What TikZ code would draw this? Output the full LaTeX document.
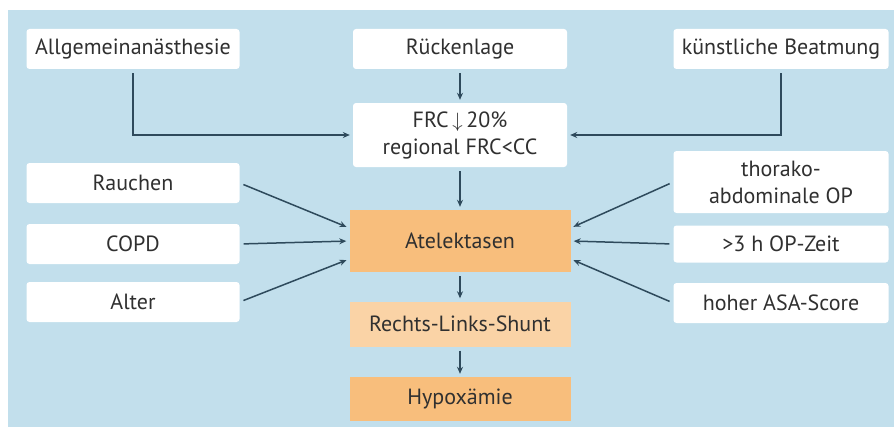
\documentclass[tikz,border=0pt]{standalone}
\usepackage{fontspec}
\setmainfont{PT Sans}
\usetikzlibrary{arrows.meta}
\definecolor{bgblue}{HTML}{C2DFEC}
\definecolor{boxorange}{HTML}{F8BE7C}
\definecolor{boxpale}{HTML}{FAD3A6}
\definecolor{linkcol}{HTML}{2E4A5C}
\definecolor{txtcol}{HTML}{303030}
\begin{document}
\begin{tikzpicture}[x=1pt,y=-1pt,
  box/.style={inner sep=0pt,align=center,text=txtcol,font=\fontsize{22}{27}\selectfont},
  factor/.style={box,fill=white,rounded corners=3pt,minimum width=213pt,minimum height=40pt},
  effect/.style={box,fill=boxorange,minimum width=221pt,minimum height=62pt},
  link/.style={draw=linkcol,line width=1.5pt,-{Stealth[length=7pt,width=6pt]},shorten <=4pt,shorten >=3pt}]
   \useasboundingbox (0,0) rectangle (894,428);
   \fill[bgblue] (8,10) rectangle (894,427);
   \node[factor] (anae) at (133,49) {Allgemeinanästhesie};
   \node[factor,minimum width=214pt] (lage) at (460,49) {Rückenlage};
   \node[factor,minimum width=215pt] (beat) at (781,49) {künstliche Beatmung};
   \node[factor,minimum width=214pt,minimum height=64pt] (frc) at (460,135) {FRC\,$\downarrow$\,20\%\\regional FRC<CC};
   \node[factor] (rauch) at (133,183) {Rauchen};
   \node[factor] (copd) at (133,244) {COPD};
   \node[factor] (alter) at (133,302) {Alter};
   \node[factor,minimum width=215pt,minimum height=62pt] (thor) at (781,182) {thorako-\\abdominale OP};
   \node[factor,minimum width=215pt,minimum height=37pt] (zeit) at (781,244) {>3 h OP-Zeit};
   \node[factor,minimum width=215pt] (asa) at (781,303) {hoher ASA-Score};
   \node[effect] (atel) at (460,241) {Atelektasen};
   \node[effect,fill=boxpale,minimum height=45pt] (shunt) at (460,324) {Rechts-Links-Shunt};
   \node[effect,minimum height=44pt] (hypo) at (460,399) {Hypoxämie};
   \draw[link] (anae.south) |- (frc.west);
   \draw[link] (beat.south) |- (frc.east);
   \draw[link] (lage) -- (frc);
   \draw[link] (frc) -- (atel);
   \draw[link] (rauch.east) -- ([yshift=13pt]atel.west);
   \draw[link] (copd.east) -- (atel.west);
   \draw[link] (alter.east) -- ([yshift=-18pt]atel.west);
   \draw[link] (thor.west) -- ([yshift=13pt]atel.east);
   \draw[link] (zeit.west) -- (atel.east);
   \draw[link] (asa.west) -- ([yshift=-18pt]atel.east);
   \draw[link] (atel) -- (shunt);
   \draw[link] (shunt) -- (hypo);
\end{tikzpicture}
\end{document}
